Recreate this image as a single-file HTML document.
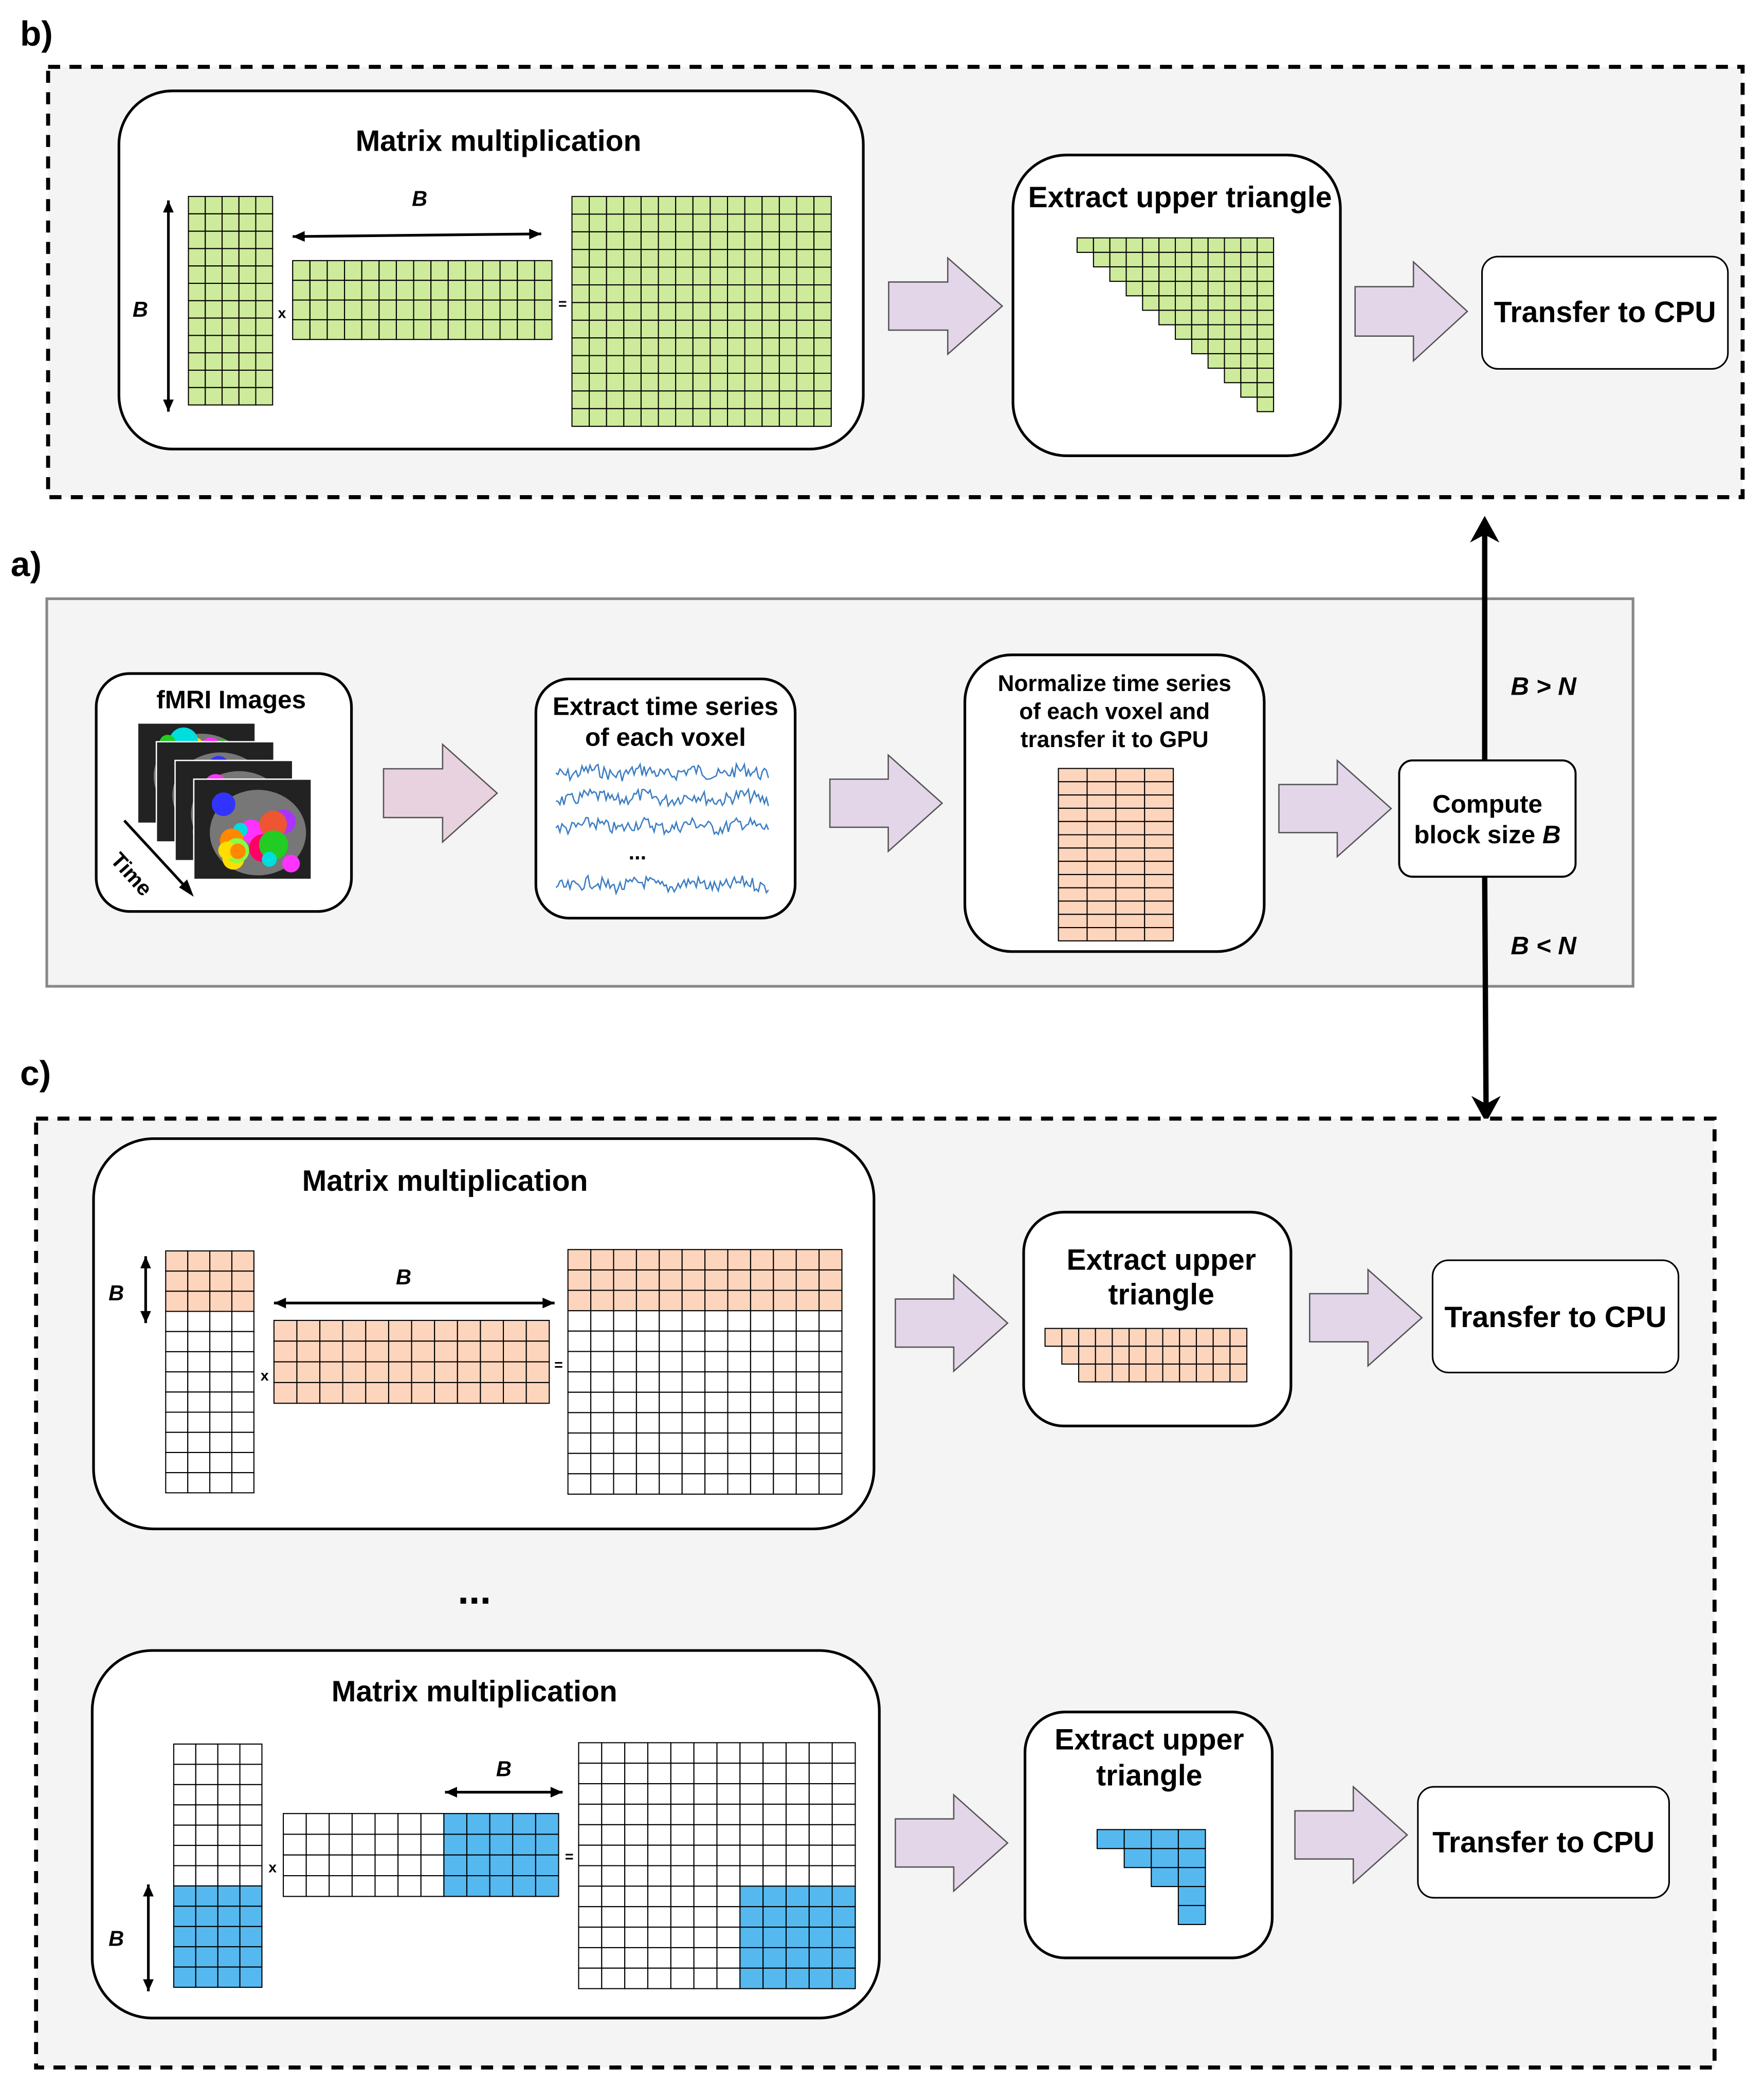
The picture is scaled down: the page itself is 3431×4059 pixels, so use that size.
<!DOCTYPE html>
<html><head><meta charset="utf-8"><style>
html,body{margin:0;padding:0;background:#fff}
svg{display:block}
text{font-family:"Liberation Sans",Arial,sans-serif;font-weight:bold;fill:#000}
</style></head><body>
<svg id="s" width="3431" height="4059" viewBox="0 0 1320 1561.6" xmlns="http://www.w3.org/2000/svg">
<rect width="1320" height="1562" fill="#fff"/>
<!-- panel b -->
<rect x="36" y="50" width="1268" height="322" fill="#f4f4f4" stroke="#000" stroke-width="3" stroke-dasharray="9,7"/>
<text x="15" y="34" font-size="26">b)</text>
<rect x="89" y="68" width="557" height="268" rx="40" fill="#fff" stroke="#000" stroke-width="2"/>
<text x="373" y="113" font-size="22" text-anchor="middle">Matrix multiplication</text>
<text x="105" y="237" font-size="16" font-style="italic" text-anchor="middle">B</text>
<text x="314" y="154" font-size="16" font-style="italic" text-anchor="middle">B</text>
<text x="211" y="238" font-size="11" text-anchor="middle" font-weight="normal">x</text>
<text x="421" y="231" font-size="11" text-anchor="middle" font-weight="normal">=</text>
<rect x="758" y="116" width="245" height="225" rx="40" fill="#fff" stroke="#000" stroke-width="2"/>
<text x="883" y="155" font-size="22" text-anchor="middle">Extract upper triangle</text>
<rect x="1109" y="192" width="184" height="84" rx="12" fill="#fff" stroke="#000" stroke-width="1.2"/>
<text x="1201" y="241" font-size="22" text-anchor="middle">Transfer to CPU</text>
<!-- panel a -->
<rect x="35" y="448" width="1187" height="290" fill="#f4f4f4" stroke="#888" stroke-width="2"/>
<text x="8" y="431" font-size="26">a)</text>
<rect x="72" y="504" width="191" height="178" rx="25" fill="#fff" stroke="#000" stroke-width="2"/>
<text x="173" y="530" font-size="19" text-anchor="middle">fMRI Images</text>
<g id="brains"></g>
<line x1="93" y1="614" x2="141" y2="666" stroke="#000" stroke-width="2"/>
<polygon points="145,671 134,664 140,658" fill="#000"/>
<text x="0" y="0" font-size="16" font-weight="normal" transform="translate(82,644) rotate(48)">Time</text>
<rect x="401" y="508" width="194" height="179" rx="25" fill="#fff" stroke="#000" stroke-width="2"/>
<text x="498" y="535" font-size="19" text-anchor="middle">Extract time series</text>
<text x="498" y="558" font-size="19" text-anchor="middle">of each voxel</text>
<text x="477" y="643" font-size="16" text-anchor="middle">...</text>
<g id="waves"></g>
<rect x="722" y="490" width="224" height="222" rx="35" fill="#fff" stroke="#000" stroke-width="2"/>
<text x="834" y="517" font-size="17" text-anchor="middle">Normalize time series</text>
<text x="834" y="538" font-size="17" text-anchor="middle">of each voxel and</text>
<text x="834" y="559" font-size="17" text-anchor="middle">transfer it to GPU</text>
<rect x="1047" y="569" width="132" height="87" rx="10" fill="#fff" stroke="#000" stroke-width="1.5"/>
<text x="1113" y="608" font-size="19" text-anchor="middle">Compute</text>
<text x="1113" y="631" font-size="19" text-anchor="middle">block size <tspan font-style="italic">B</tspan></text>
<line x1="1111" y1="569" x2="1111" y2="400" stroke="#000" stroke-width="4"/>
<polygon points="1111,386 1100,406 1111,400 1122,406" fill="#000"/>
<line x1="1111" y1="656" x2="1112" y2="826" stroke="#000" stroke-width="4"/>
<polygon points="1112,840 1101,820 1112,826 1123,820" fill="#000"/>
<text x="1155" y="520" font-size="19" font-style="italic" text-anchor="middle">B &gt; N</text>
<text x="1155" y="714" font-size="19" font-style="italic" text-anchor="middle">B &lt; N</text>
<!-- panel c -->
<rect x="27" y="837" width="1256" height="710" fill="#f4f4f4" stroke="#000" stroke-width="3" stroke-dasharray="9,7"/>
<text x="15" y="812" font-size="26">c)</text>
<rect x="70" y="852" width="584" height="292" rx="45" fill="#fff" stroke="#000" stroke-width="2"/>
<text x="333" y="891" font-size="22" text-anchor="middle">Matrix multiplication</text>
<text x="87" y="973" font-size="16" font-style="italic" text-anchor="middle">B</text>
<text x="302" y="961" font-size="16" font-style="italic" text-anchor="middle">B</text>
<text x="198" y="1033" font-size="11" text-anchor="middle" font-weight="normal">x</text>
<text x="418" y="1025" font-size="11" text-anchor="middle" font-weight="normal">=</text>
<rect x="766" y="907" width="200" height="160" rx="30" fill="#fff" stroke="#000" stroke-width="2"/>
<text x="869" y="950" font-size="22" text-anchor="middle">Extract upper</text>
<text x="869" y="976" font-size="22" text-anchor="middle">triangle</text>
<rect x="1072" y="943" width="184" height="84" rx="12" fill="#fff" stroke="#000" stroke-width="1.2"/>
<text x="1164" y="993" font-size="22" text-anchor="middle">Transfer to CPU</text>
<text x="355" y="1200" font-size="30" text-anchor="middle">...</text>
<rect x="69" y="1235" width="589" height="275" rx="45" fill="#fff" stroke="#000" stroke-width="2"/>
<text x="355" y="1273" font-size="22" text-anchor="middle">Matrix multiplication</text>
<text x="87" y="1456" font-size="16" font-style="italic" text-anchor="middle">B</text>
<text x="377" y="1329" font-size="16" font-style="italic" text-anchor="middle">B</text>
<text x="204" y="1401" font-size="11" text-anchor="middle" font-weight="normal">x</text>
<text x="426" y="1393" font-size="11" text-anchor="middle" font-weight="normal">=</text>
<rect x="767" y="1281" width="185" height="184" rx="30" fill="#fff" stroke="#000" stroke-width="2"/>
<text x="860" y="1309" font-size="22" text-anchor="middle">Extract upper</text>
<text x="860" y="1336" font-size="22" text-anchor="middle">triangle</text>
<rect x="1061" y="1337" width="188" height="83" rx="12" fill="#fff" stroke="#000" stroke-width="1.2"/>
<text x="1155" y="1386" font-size="22" text-anchor="middle">Transfer to CPU</text>
<g id="dyn"></g>
</svg>
<script>
var NS="http://www.w3.org/2000/svg",g=document.getElementById("dyn");
function el(t,a,p){var e=document.createElementNS(NS,t);for(var k in a)e.setAttribute(k,a[k]);(p||g).appendChild(e);return e;}
var G="#cdeb9b",P="#fdd5bd",B="#55b9f0",W="#fff";
// grid: x,y,w,h,cols,rows, fillfn(r,c) returns color or null
function grid(x,y,w,h,cols,rows,f){var cw=w/cols,ch=h/rows;
 for(var r=0;r<rows;r++)for(var c=0;c<cols;c++){var col=f(r,c);if(col)el("rect",{x:x+c*cw,y:y+r*ch,width:cw,height:ch,fill:col,stroke:"#000","stroke-width":0.8});}}
function dbl(x1,y1,x2,y2){el("line",{x1:x1,y1:y1,x2:x2,y2:y2,stroke:"#000","stroke-width":2});
 var dx=x2-x1,dy=y2-y1,L=Math.hypot(dx,dy),ux=dx/L,uy=dy/L,s=9,w=4;
 [[x2,y2,1],[x1,y1,-1]].forEach(function(p){var X=p[0],Y=p[1],d=p[2];
 el("polygon",{points:X+","+Y+" "+(X-d*ux*s-uy*w)+","+(Y-d*uy*s+ux*w)+" "+(X-d*ux*s+uy*w)+","+(Y-d*uy*s-ux*w),fill:"#000"});});}
function fat(x,y,w,h,fill){var m=x+w*0.52;
 el("polygon",{points:[x,y+h*0.25,m,y+h*0.25,m,y,x+w,y+h/2,m,y+h,m,y+h*0.75,x,y+h*0.75].join(","),fill:fill||"#e3d6e9",stroke:"#555","stroke-width":1});}
// b
grid(141,147,63,156,5,12,function(){return G});
grid(219,195,194,59,15,4,function(){return G});
grid(428,147,194,172,15,13,function(){return G});
dbl(126,150,126,308);dbl(219,177,405,175);
grid(806,178,147,130,12,12,function(r,c){return c>=r?G:null});
fat(665,193,85,72);fat(1014,196,84,74);
// a
fat(287,557,85,73,"#e8d2df");fat(621,565,84,72);fat(957,569,84,72);
grid(792,575,86,129,4,13,function(){return P});
// c1
grid(124,936,66,181,4,12,function(r){return r<3?P:W});
grid(205,988,206,62,12,4,function(){return P});
grid(425,935,205,183,12,12,function(r){return r<3?P:W});
dbl(109,940,109,990);dbl(205,975,415,975);
grid(782,994,151,40,12,3,function(r,c){return c>=r?P:null});
fat(670,954,84,72);fat(980,950,84,72);
// c2
grid(130,1305,66,182,4,12,function(r){return r>=7?B:W});
grid(212,1357,206,62,12,4,function(r,c){return c>=7?B:W});
grid(433,1304,207,184,12,12,function(r,c){return (r>=7&&c>=7)?B:W});
dbl(111,1410,111,1490);dbl(333,1341,421,1341);
grid(821,1369,81,71,4,5,function(r,c){return c>=Math.min(r,3)?B:null});
fat(670,1343,84,72);fat(969,1337,84,72);
// waves
var wv=document.getElementById("waves"),seed=7;function rnd(){seed=(seed*9301+49297)%233280;return seed/233280;}
[578,597,618,662].forEach(function(y0){var pts=[];for(var x=416;x<=575;x+=1.5){pts.push(x+","+(y0+(rnd()-0.5)*10+Math.sin(x/6)*2));}
 el("polyline",{points:pts.join(" "),fill:"none",stroke:"#3b7dc4","stroke-width":1},wv);});
// brains
var br=document.getElementById("brains"),cols=["#e53","#2c2","#33f","#f3f","#fd0","#0dd","#f80","#8f4","#a3f","#f06"];
for(var i=0;i<4;i++){var bx=103+i*14,by=541+i*14;
 el("rect",{x:bx,y:by,width:88,height:75,fill:"#222",stroke:"#fff","stroke-width":1},br);
 el("ellipse",{cx:bx+48,cy:by+40,rx:36,ry:32,fill:"#777"},br);
 for(var k=0;k<14;k++)el("circle",{cx:bx+22+rnd()*52,cy:by+14+rnd()*50,r:5+rnd()*6,fill:cols[(k+i)%10]},br);}
</script>
</body></html>
